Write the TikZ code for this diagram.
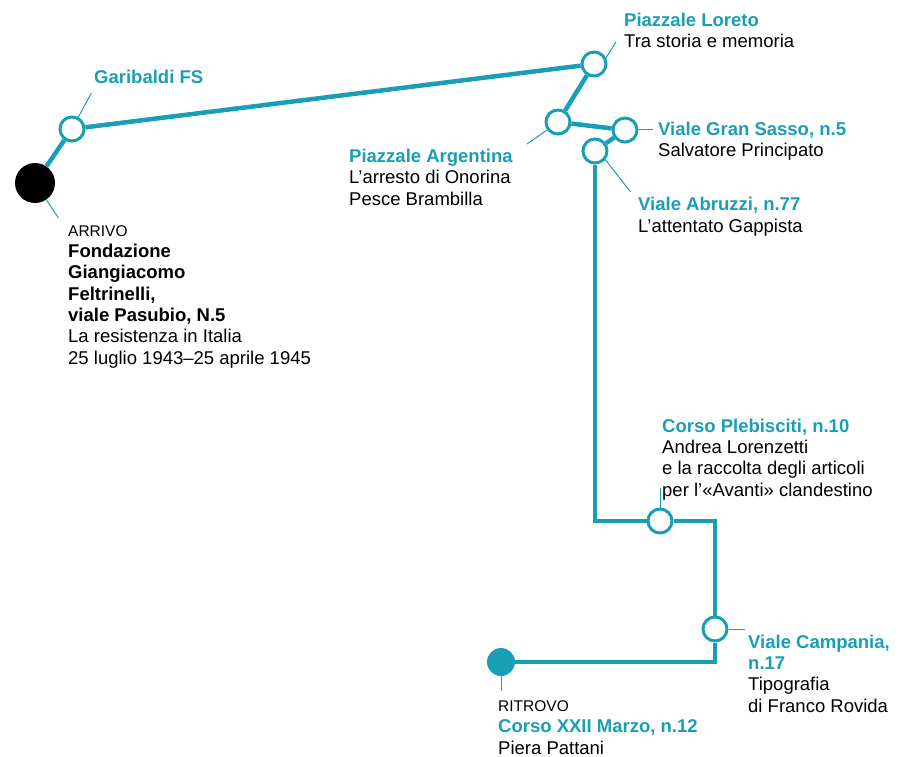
\documentclass[tikz,border=0pt]{standalone}
\usepackage{fontspec}
\setmainfont{Liberation Sans}
\definecolor{routeteal}{RGB}{24,159,181}
\tikzset{route/.style={draw=routeteal, line width=4.5pt, line join=miter},
	stopc/.style={circle, draw=routeteal, fill=white, line width=3pt, minimum size=24pt, inner sep=0pt},
	leader/.style={draw=routeteal, line width=1pt},
	lbl/.style={anchor=base west, inner sep=0pt, align=left, font=\fontsize{18.5}{21.3}\selectfont}}
\newcommand{\stopname}[1]{\textbf{\color{routeteal}#1}}
\newcommand{\kindtag}[1]{{\fontsize{15.5}{21.3}\selectfont #1}}

\begin{document}
\begin{tikzpicture}[x=1pt, y=-1pt]
				\useasboundingbox (0,0) rectangle (899,757);
				% stops
				\node[circle, fill=black, minimum size=40pt, inner sep=0pt] (arrivo) at (35,183) {};
				\node[stopc] (gari) at (72,129) {};
				\node[stopc] (lor) at (594,64) {};
				\node[stopc] (arg) at (558,122) {};
				\node[stopc] (gs) at (625,130) {};
				\node[stopc] (abr) at (595,151) {};
				\node[stopc] (pleb) at (660,521) {};
				\node[stopc] (camp) at (715,629) {};
				\node[circle, fill=routeteal, minimum size=28pt, inner sep=0pt] (rit) at (501,662) {};
				% route
				\draw[route] (arrivo) -- (gari) -- (lor) -- (arg) -- (gs) -- (abr);
				\draw[route] (abr) -- (abr |- pleb) -- (pleb);
				\draw[route] (pleb) -- (pleb -| camp) -- (camp);
				\draw[route] (camp) -- (camp |- rit) -- (rit);
				% leaders
				\draw[leader] (gari.62) -- ++(13,-24);
				\draw[leader] (arrivo.-56) -- ++(12,18);
				\draw[leader] (lor.27) -- ++(10,-16);
				\draw[leader] (arg.-144) -- ++(-20,14);
				\draw[leader] (gs.east) -- ++(14,0);
				\draw[leader] (abr.-40) -- ++(25,32);
				\draw[leader] (pleb.north) -- ++(0,-20);
				\draw[leader] (camp.east) -- ++(16,0);
				\draw[leader] (rit.south) -- ++(0,15);
				% labels (placed at the baseline of their last line)
				\node[lbl] (gariTxt) at (94,84) {\stopname{Garibaldi FS}};
				\node[lbl] (arrTxt) at (68,364) {\kindtag{ARRIVO}\\ \textbf{Fondazione}\\ \textbf{Giangiacomo}\\ \textbf{Feltrinelli,}\\ \textbf{viale Pasubio, N.5}\\ La resistenza in Italia\\ 25 luglio 1943--25 aprile 1945};
				\node[lbl] (lorTxt) at (624,48) {\stopname{Piazzale Loreto}\\ Tra storia e memoria};
				\node[lbl] (argTxt) at (349,205) {\stopname{Piazzale Argentina}\\ L’arresto di Onorina\\ Pesce Brambilla};
				\node[lbl] (gsTxt) at (658,157) {\stopname{Viale Gran Sasso, n.5}\\ Salvatore Principato};
				\node[lbl] (abrTxt) at (638,232) {\stopname{Viale Abruzzi, n.77}\\ L’attentato Gappista};
				\node[lbl] (plebTxt) at (662,496) {\stopname{Corso Plebisciti, n.10}\\ Andrea Lorenzetti\\ e la raccolta degli articoli\\ per l’«Avanti» clandestino};
				\node[lbl] (campTxt) at (748,712) {\stopname{Viale Campania,}\\ \stopname{n.17}\\ Tipografia\\ di Franco Rovida};
				\node[lbl] (ritTxt) at (498,754) {\kindtag{RITROVO}\\ \stopname{Corso XXII Marzo, n.12}\\ Piera Pattani};
\end{tikzpicture}
\end{document}
